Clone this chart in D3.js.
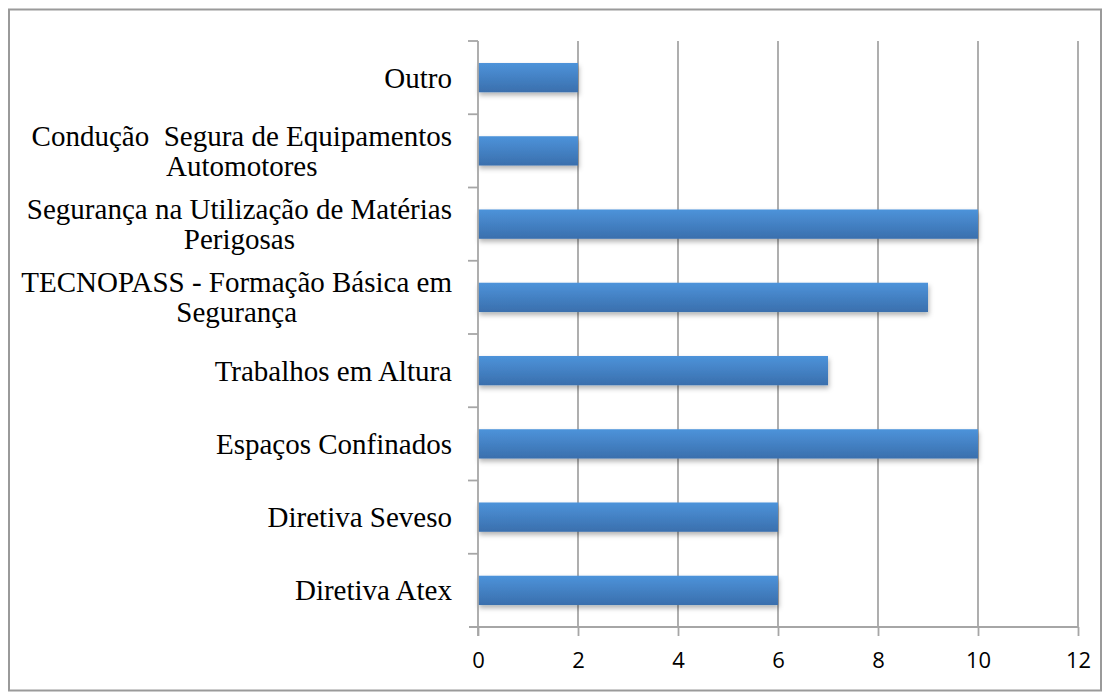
<!DOCTYPE html>
<html>
<head>
<meta charset="utf-8">
<script src="https://cdn.jsdelivr.net/npm/d3@7"></script>
<style>
  body { margin: 0; background: #fff; }
  text.cat { font-family: "Liberation Serif", "Times New Roman", serif; font-size: 29px; fill: #000; white-space: pre; }
  .xaxis text { font-family: "Open Sans", "Liberation Sans", sans-serif; font-size: 22px; fill: #000; }
</style>
</head>
<body>
<svg id="chart" width="1111" height="700"></svg>
<script>
let categories = [
  "Outro",
  "Condução  Segura de Equipamentos\nAutomotores",
  "Segurança na Utilização de Matérias\nPerigosas",
  "TECNOPASS - Formação Básica em\nSegurança",
  "Trabalhos em Altura",
  "Espaços Confinados",
  "Diretiva Seveso",
  "Diretiva Atex"
]
let values = [2, 2, 10, 9, 7, 10, 6, 6]
let xTicks = [0, 2, 4, 6, 8, 10, 12]

let margin = {top: 41, right: 33, bottom: 73, left: 478}
let width = 1111, height = 700

let svg = d3.select("#chart")

// outer frame
svg.append("rect")
  .attr("x", 9).attr("y", 9.5)
  .attr("width", 1092).attr("height", 681)
  .attr("fill", "none")
  .attr("stroke", "#9a9a9a")
  .attr("stroke-width", 2)

let defs = svg.append("defs")
let grad = defs.append("linearGradient")
  .attr("id", "barGrad")
  .attr("x1", 0).attr("y1", 0).attr("x2", 0).attr("y2", 1)
grad.append("stop").attr("offset", "0%").attr("stop-color", "#4d93da")
grad.append("stop").attr("offset", "100%").attr("stop-color", "#3a6fad")

let shadow = defs.append("filter")
  .attr("id", "shadow")
  .attr("x", "-5%").attr("y", "-20%").attr("width", "115%").attr("height", "160%")
shadow.append("feDropShadow")
  .attr("dx", 1).attr("dy", 3).attr("stdDeviation", 2.5)
  .attr("flood-color", "#000").attr("flood-opacity", 0.3)

let x = d3.scaleLinear()
  .domain([0, 12])
  .range([margin.left, width - margin.right])

let y = d3.scaleBand()
  .domain(categories)
  .range([margin.top, height - margin.bottom])
  .paddingInner(0.6)
  .paddingOuter(0.3)

let yEdge = d3.scaleBand()
  .domain(categories)
  .range([margin.top, height - margin.bottom])

let bottom = height - margin.bottom

// gridlines
svg.append("g")
  .selectAll("line")
  .data(xTicks.slice(1))
  .enter().append("line")
  .attr("x1", d => x(d)).attr("x2", d => x(d))
  .attr("y1", margin.top).attr("y2", bottom)
  .attr("stroke", "#a6a6a6")
  .attr("stroke-width", 1.8)

// bars
svg.append("g")
  .selectAll("rect")
  .data(values)
  .enter().append("rect")
  .attr("x", x(0))
  .attr("y", (d, i) => y(categories[i]))
  .attr("width", d => x(d) - x(0))
  .attr("height", y.bandwidth())
  .attr("fill", "url(#barGrad)")
  .attr("filter", "url(#shadow)")

// x axis
let xAxis = d3.axisBottom(x)
  .tickValues(xTicks)
  .tickSize(9)
  .tickPadding(16)
let gx = svg.append("g")
  .attr("class", "xaxis")
  .attr("transform", `translate(0, ${bottom})`)
  .call(xAxis)
gx.select(".domain").remove()
gx.selectAll(".tick line").attr("stroke", "#a6a6a6").attr("stroke-width", 1.8)
gx.append("line")
  .attr("x1", x(0) - 9).attr("x2", x(12))
  .attr("stroke", "#a6a6a6").attr("stroke-width", 1.8)

// y axis line + ticks at band edges
let gy = svg.append("g")
gy.append("line")
  .attr("x1", x(0)).attr("x2", x(0))
  .attr("y1", margin.top).attr("y2", bottom + 9)
  .attr("stroke", "#a6a6a6").attr("stroke-width", 1.8)
gy.selectAll("line.tk")
  .data(categories)
  .enter().append("line")
  .attr("class", "tk")
  .attr("x1", x(0) - 10).attr("x2", x(0))
  .attr("y1", d => yEdge(d)).attr("y2", d => yEdge(d))
  .attr("stroke", "#a6a6a6").attr("stroke-width", 1.8)

// category labels, lines centred on each other, block right-aligned
let labelRight = x(0) - 26
let lineH = 30
categories.forEach(function(c) {
  let lines = c.split("\n")
  let cy = yEdge(c) + yEdge.bandwidth() / 2
  let t = svg.append("text").attr("class", "cat").attr("text-anchor", "middle")
  let spans = lines.map((l, i) => t.append("tspan")
    .attr("y", cy + 10 - (lines.length - 1) * lineH / 2 + i * lineH)
    .text(l))
  let maxW = d3.max(spans, s => s.node().getComputedTextLength())
  spans.forEach(s => s.attr("x", labelRight - maxW / 2))
})
</script>
</body>
</html>
